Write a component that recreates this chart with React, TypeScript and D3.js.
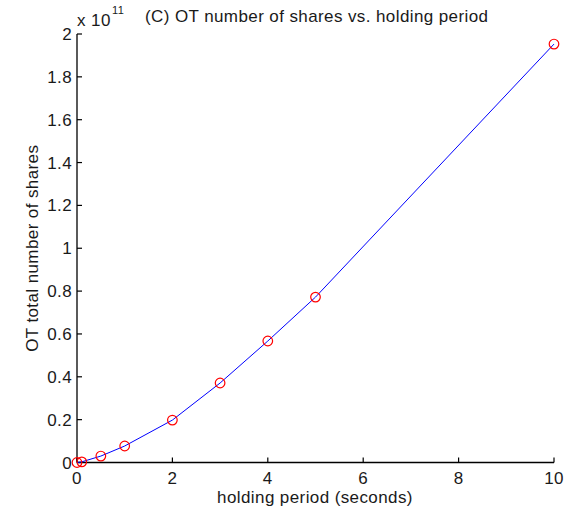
import React from "react";
import * as d3 from "d3";

// Holding period (seconds) and OT total number of shares (units of 1e11)
const holdingPeriod = [0, 0.1, 0.5, 1, 2, 3, 4, 5, 10];
const totalShares = [0, 0.003, 0.03, 0.077, 0.198, 0.371, 0.567, 0.772, 1.953];
const xTicks = [0, 2, 4, 6, 8, 10];
const yTicks = [0, 0.2, 0.4, 0.6, 0.8, 1, 1.2, 1.4, 1.6, 1.8, 2];

const W = 583;
const H = 513;
const left = 77;
const right = 554;
const top = 34;
const bottom = 462.5;
const font = "'Liberation Sans', Arial, Helvetica, sans-serif";

export default function App() {
  const x = d3.scaleLinear().domain([0, 10]).range([left, right]);
  const y = d3.scaleLinear().domain([0, 2]).range([bottom, top]);
  const line = d3
    .line<number>()
    .x((_, i) => x(holdingPeriod[i]))
    .y((d) => y(d));
  const tickLen = 5;
  const fs = 17;
  const ls = 0.4;

  return (
    <svg
      width={W}
      height={H}
      style={{ position: "absolute", left: 0, top: 0, background: "#fff" }}
      fontFamily={font}
      letterSpacing={ls}
    >
      <rect width={W} height={H} fill="#fff" />
      {/* axes */}
      <line x1={left} x2={left} y1={top} y2={bottom} stroke="#000" strokeWidth={1.3} />
      <line x1={left} x2={right} y1={bottom} y2={bottom} stroke="#000" strokeWidth={1.3} />
      {xTicks.map((t) => (
        <g key={"x" + t}>
          <line x1={x(t)} x2={x(t)} y1={bottom} y2={bottom - tickLen} stroke="#000" strokeWidth={1.2} />
          <text x={x(t)} y={bottom + 21.5} fontSize={fs} textAnchor="middle" fill="#1a1a1a">
            {t}
          </text>
        </g>
      ))}
      {yTicks.map((t) => (
        <g key={"y" + t}>
          <line x1={left} x2={left + tickLen} y1={y(t)} y2={y(t)} stroke="#000" strokeWidth={1.2} />
          <text x={left - 5} y={y(t) + 6} fontSize={fs} textAnchor="end" fill="#1a1a1a">
            {t}
          </text>
        </g>
      ))}
      {/* exponent */}
      <text x={77} y={26} fontSize={fs} fill="#1a1a1a">
        x 10
      </text>
      <text x={112} y={14} fontSize={11} fill="#1a1a1a">
        11
      </text>
      {/* title */}
      <text x={145} y={22} fontSize={fs} fill="#1a1a1a">
        (C) OT number of shares vs. holding period
      </text>
      {/* axis labels */}
      <text x={315} y={503} fontSize={fs} textAnchor="middle" fill="#1a1a1a">
        holding period (seconds)
      </text>
      <text
        transform={`translate(38, ${(top + bottom) / 2}) rotate(-90)`}
        fontSize={fs}
        textAnchor="middle"
        fill="#1a1a1a"
      >
        OT total number of shares
      </text>
      {/* data */}
      <path d={line(totalShares) || ""} fill="none" stroke="#0000ff" strokeWidth={1} />
      {totalShares.map((v, i) => (
        <circle
          key={i}
          cx={x(holdingPeriod[i])}
          cy={y(v)}
          r={4.8}
          fill="none"
          stroke="#ff0000"
          strokeWidth={1.2}
        />
      ))}
    </svg>
  );
}
